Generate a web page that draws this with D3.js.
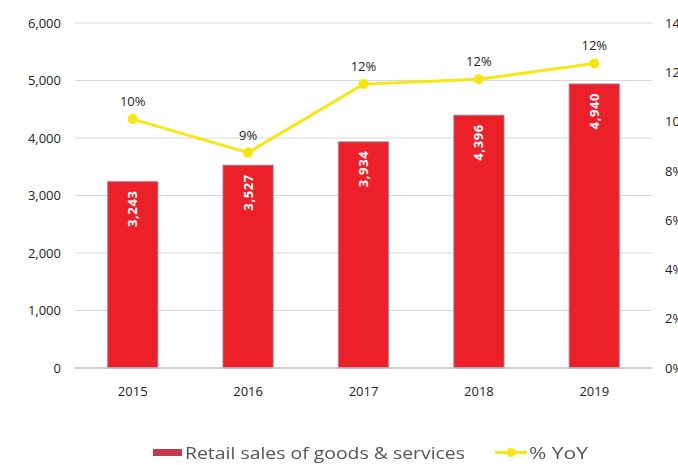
<!DOCTYPE html>
<html>
<head>
<meta charset="utf-8">
<script src="https://cdn.jsdelivr.net/npm/d3@7"></script>
<style>
  html, body { margin: 0; padding: 0; background: #fff; overflow: hidden; }
  svg { display: block; font-family: "Open Sans", "Noto Sans", sans-serif; }
</style>
</head>
<body>
<svg id="chart" width="678" height="465"></svg>
<script>
// Annual retail sales (bars, left axis) and year-on-year growth (line, right axis)
const years = ["2015", "2016", "2017", "2018", "2019"];
const retailSales = [3243, 3527, 3934, 4396, 4940];
const yoyGrowth = [10.1, 8.74, 11.52, 11.72, 12.36];
const leftTicks = [0, 1000, 2000, 3000, 4000, 5000, 6000];
const rightTicks = [0, 2, 4, 6, 8, 10, 12, 14];
const legendLabels = ["Retail sales of goods & services", "% YoY"];

const svg = d3.select("#chart");
const plot = { left: 75, right: 652, top: 23, bottom: 368 };

const x = d3.scaleBand().domain(years).range([plot.left, plot.right]).paddingInner(0.565).paddingOuter(0.2825);
const yLeft = d3.scaleLinear().domain([0, 6000]).range([plot.bottom, plot.top]);
const yRight = d3.scaleLinear().domain([0, 14]).range([plot.bottom, plot.top]);

const fmtComma = d3.format(",");

// Horizontal gridlines
svg.append("g")
  .selectAll("line")
  .data(leftTicks.filter(d => d > 0))
  .join("line")
  .attr("x1", plot.left).attr("x2", plot.right)
  .attr("y1", d => yLeft(d)).attr("y2", d => yLeft(d))
  .attr("stroke", "#d9d9d9").attr("stroke-width", 1);

// Left axis
const leftAxis = svg.append("g")
  .attr("transform", `translate(${plot.left},0)`)
  .call(d3.axisLeft(yLeft).tickValues(leftTicks).tickFormat(fmtComma).tickSize(0).tickPadding(14));
leftAxis.select(".domain").remove();
leftAxis.selectAll("text").attr("font-size", 13).attr("fill", "#222")
  .attr("font-family", "'Open Sans', sans-serif");

// Right axis (labels run off the right edge)
const rightAxis = svg.append("g")
  .attr("transform", `translate(${plot.right},0)`)
  .call(d3.axisRight(yRight).tickValues(rightTicks).tickFormat(d => d + "%").tickSize(0).tickPadding(13));
rightAxis.select(".domain").remove();
rightAxis.selectAll("text").attr("font-size", 13).attr("fill", "#222")
  .attr("font-family", "'Open Sans', sans-serif");

// Bars
svg.append("g")
  .selectAll("rect")
  .data(retailSales)
  .join("rect")
  .attr("x", (d, i) => x(years[i]))
  .attr("y", d => yLeft(d))
  .attr("width", x.bandwidth())
  .attr("height", d => yLeft(0) - yLeft(d))
  .attr("fill", "#ec2028")
  .attr("stroke", "#8f7f9c")
  .attr("stroke-opacity", 0.55)
  .attr("stroke-width", 1.5);

// Baseline
svg.append("line")
  .attr("x1", plot.left).attr("x2", plot.right)
  .attr("y1", yLeft(0)).attr("y2", yLeft(0))
  .attr("stroke", "#bfbfbf").attr("stroke-width", 1.5);

// Bar value labels, rotated inside the top of each bar
svg.append("g")
  .selectAll("text")
  .data(retailSales)
  .join("text")
  .attr("transform", (d, i) => `translate(${x(years[i]) + x.bandwidth() / 2 + 4.5},${yLeft(d) + 9}) rotate(-90)`)
  .attr("text-anchor", "end")
  .attr("font-size", 13)
  .attr("font-weight", 700)
  .attr("letter-spacing", 0.6)
  .attr("fill", "#fff")
  .text(d => fmtComma(d));

// X axis labels
svg.append("g")
  .selectAll("text")
  .data(years)
  .join("text")
  .attr("x", d => x(d) + x.bandwidth() / 2)
  .attr("y", 396)
  .attr("text-anchor", "middle")
  .attr("font-size", 13)
  .attr("fill", "#222")
  .text(d => d);

// YoY line
const cx = (d, i) => x(years[i]) + x.bandwidth() / 2;
const line = d3.line().x(cx).y(d => yRight(d));
svg.append("path")
  .datum(yoyGrowth)
  .attr("d", line)
  .attr("fill", "none")
  .attr("stroke", "#f7e612")
  .attr("stroke-width", 3);

svg.append("g")
  .selectAll("circle")
  .data(yoyGrowth)
  .join("circle")
  .attr("cx", cx)
  .attr("cy", d => yRight(d))
  .attr("r", 5)
  .attr("fill", "#f7e612");

svg.append("g")
  .selectAll("text")
  .data(yoyGrowth)
  .join("text")
  .attr("x", cx)
  .attr("y", d => yRight(d) - 13)
  .attr("text-anchor", "middle")
  .attr("font-size", 13)
  .attr("fill", "#222")
  .text(d => Math.round(d) + "%");

// Legend
const defs = svg.append("defs");
defs.append("filter").attr("id", "soft")
  .append("feGaussianBlur").attr("stdDeviation", 0.55);

const legend = svg.append("g").attr("filter", "url(#soft)");
legend.append("rect")
  .attr("x", 153).attr("y", 449).attr("width", 29).attr("height", 7)
  .attr("fill", "#c8394b");
legend.append("text")
  .attr("x", 185).attr("y", 459)
  .attr("font-size", 16.5)
  .attr("fill", "#555")
  .attr("textLength", 280)
  .attr("lengthAdjust", "spacingAndGlyphs")
  .text(legendLabels[0]);
legend.append("line")
  .attr("x1", 495).attr("x2", 527).attr("y1", 452.5).attr("y2", 452.5)
  .attr("stroke", "#f7e612").attr("stroke-width", 3);
legend.append("circle")
  .attr("cx", 511).attr("cy", 452.5).attr("r", 4.5)
  .attr("fill", "#f7e612");
legend.append("text")
  .attr("x", 529).attr("y", 459)
  .attr("font-size", 16.5)
  .attr("fill", "#555")
  .attr("textLength", 59)
  .attr("lengthAdjust", "spacingAndGlyphs")
  .text(legendLabels[1]);
</script>
</body>
</html>
